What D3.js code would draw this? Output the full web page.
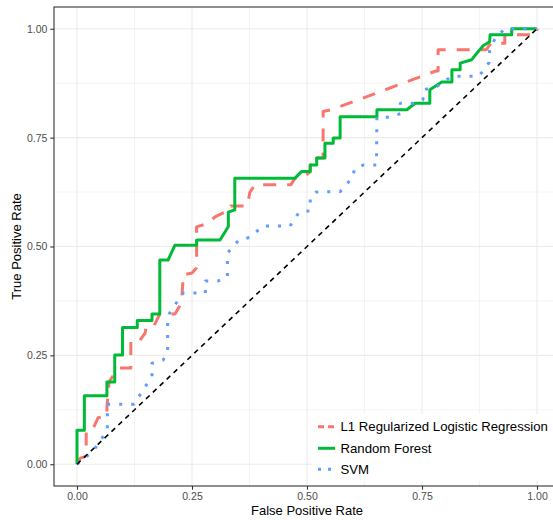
<!DOCTYPE html>
<html>
<head>
<meta charset="utf-8">
<script src="https://cdn.jsdelivr.net/npm/d3@7"></script>
<style>
  body { margin: 0; background: #fff; }
  svg { display: block; font-family: "Liberation Sans", Arial, sans-serif; }
</style>
</head>
<body>
<svg id="chart" width="553" height="520"></svg>
<script>
// ---------- data ----------
const seriesNames = ["L1 Regularized Logistic Regression", "Random Forest", "SVM"];
const seriesColors = ["#F8766D", "#00BA38", "#619CFF"];
const tickValues = [0, 0.25, 0.5, 0.75, 1];
const tickLabels = ["0.00", "0.25", "0.50", "0.75", "1.00"];
const xTitle = "False Positive Rate";
const yTitle = "True Positive Rate";

const fprL1 = [0, 0.007, 0.02, 0.02, 0.035, 0.046, 0.065, 0.065, 0.07, 0.09, 0.117, 0.117, 0.117, 0.137, 0.148, 0.15, 0.165, 0.18, 0.213, 0.227, 0.23, 0.23, 0.25, 0.26, 0.26, 0.285, 0.3, 0.318, 0.33, 0.334, 0.37, 0.376, 0.387, 0.465, 0.474, 0.49, 0.507, 0.507, 0.521, 0.521, 0.535, 0.535, 0.553, 0.78, 0.785, 0.785, 0.89, 0.9, 0.93, 0.93, 1, 1];
const tprL1 = [0, 0.014, 0.018, 0.078, 0.082, 0.107, 0.11, 0.13, 0.19, 0.221, 0.221, 0.236, 0.285, 0.285, 0.301, 0.313, 0.313, 0.345, 0.345, 0.37, 0.416, 0.435, 0.439, 0.451, 0.545, 0.553, 0.568, 0.577, 0.58, 0.593, 0.593, 0.625, 0.642, 0.642, 0.657, 0.657, 0.672, 0.687, 0.687, 0.703, 0.703, 0.81, 0.814, 0.903, 0.903, 0.952, 0.952, 0.967, 0.967, 0.986, 0.986, 1];

const fprRF = [0, 0, 0.016, 0.016, 0.065, 0.065, 0.082, 0.082, 0.099, 0.099, 0.131, 0.131, 0.163, 0.163, 0.18, 0.18, 0.198, 0.213, 0.26, 0.26, 0.311, 0.329, 0.329, 0.343, 0.343, 0.474, 0.488, 0.507, 0.507, 0.521, 0.521, 0.539, 0.539, 0.557, 0.557, 0.572, 0.572, 0.652, 0.652, 0.717, 0.735, 0.767, 0.767, 0.793, 0.815, 0.815, 0.833, 0.833, 0.858, 0.87, 0.883, 0.897, 0.898, 0.945, 0.945, 1];
const tprRF = [0, 0.078, 0.078, 0.157, 0.157, 0.189, 0.189, 0.251, 0.251, 0.314, 0.314, 0.33, 0.33, 0.345, 0.345, 0.469, 0.469, 0.503, 0.503, 0.515, 0.515, 0.546, 0.579, 0.584, 0.657, 0.657, 0.672, 0.672, 0.687, 0.687, 0.703, 0.703, 0.737, 0.737, 0.749, 0.749, 0.798, 0.798, 0.814, 0.814, 0.829, 0.829, 0.86, 0.878, 0.878, 0.906, 0.906, 0.921, 0.929, 0.945, 0.961, 0.97, 0.986, 0.986, 1, 1];

const fprSVM = [0, 0.035, 0.066, 0.066, 0.124, 0.163, 0.163, 0.187, 0.197, 0.197, 0.23, 0.279, 0.279, 0.307, 0.327, 0.327, 0.352, 0.376, 0.404, 0.463, 0.483, 0.507, 0.507, 0.52, 0.572, 0.598, 0.604, 0.622, 0.651, 0.652, 0.68, 0.703, 0.703, 0.731, 0.752, 0.754, 0.783, 0.815, 0.874, 0.896, 0.897, 0.909, 0.93, 1];
const tprSVM = [0, 0.03, 0.078, 0.138, 0.138, 0.202, 0.232, 0.239, 0.257, 0.34, 0.393, 0.393, 0.421, 0.421, 0.43, 0.485, 0.515, 0.521, 0.547, 0.547, 0.579, 0.582, 0.611, 0.625, 0.626, 0.657, 0.679, 0.687, 0.687, 0.797, 0.797, 0.805, 0.829, 0.829, 0.837, 0.86, 0.868, 0.891, 0.891, 0.923, 0.951, 0.978, 1, 1];

const seriesX = [fprL1, fprRF, fprSVM];
const seriesY = [tprL1, tprRF, tprSVM];

// ---------- layout ----------
const svg = d3.select("#chart");
const panel = { left: 54, right: 560, top: 7, bottom: 486 };
const x = d3.scaleLinear().domain([-0.05, 1.05]).range([panel.left, panel.right]);
const y = d3.scaleLinear().domain([-0.05, 1.05]).range([panel.bottom, panel.top]);

// panel background
svg.append("rect")
  .attr("x", panel.left).attr("y", panel.top)
  .attr("width", panel.right - panel.left).attr("height", panel.bottom - panel.top)
  .attr("fill", "#fff");

// grid
const minorTicks = [0.125, 0.375, 0.625, 0.875];
const grid = svg.append("g");
minorTicks.forEach(t => {
  grid.append("line").attr("x1", x(t)).attr("x2", x(t)).attr("y1", panel.top).attr("y2", panel.bottom)
    .attr("stroke", "#EBEBEB").attr("stroke-width", 0.55);
  grid.append("line").attr("y1", y(t)).attr("y2", y(t)).attr("x1", panel.left).attr("x2", panel.right)
    .attr("stroke", "#EBEBEB").attr("stroke-width", 0.55);
});
tickValues.forEach(t => {
  grid.append("line").attr("x1", x(t)).attr("x2", x(t)).attr("y1", panel.top).attr("y2", panel.bottom)
    .attr("stroke", "#EBEBEB").attr("stroke-width", 1.1);
  grid.append("line").attr("y1", y(t)).attr("y2", y(t)).attr("x1", panel.left).attr("x2", panel.right)
    .attr("stroke", "#EBEBEB").attr("stroke-width", 1.1);
});

// curves
const dashes = ["13,11", null, "3,9"];
const line = d3.line().x(d => x(d[0])).y(d => y(d[1]));
seriesNames.forEach((name, i) => {
  const pts = seriesX[i].map((v, j) => [v, seriesY[i][j]]);
  svg.append("path")
    .attr("d", line(pts))
    .attr("fill", "none")
    .attr("stroke", seriesColors[i])
    .attr("stroke-width", 3)
    .attr("stroke-linejoin", "round")
    .attr("stroke-dasharray", dashes[i]);
});

// diagonal
svg.append("line")
  .attr("x1", x(0)).attr("y1", y(0)).attr("x2", x(1)).attr("y2", y(1))
  .attr("stroke", "#000").attr("stroke-width", 1.6).attr("stroke-dasharray", "5,4.5");

// panel border
svg.append("rect")
  .attr("x", panel.left).attr("y", panel.top)
  .attr("width", panel.right - panel.left).attr("height", panel.bottom - panel.top)
  .attr("fill", "none").attr("stroke", "#333").attr("stroke-width", 1.1);

// axes
const xAxis = d3.axisBottom(x).tickValues(tickValues).tickFormat((d, i) => tickLabels[i]).tickSizeOuter(0).tickSizeInner(3.7).tickPadding(3);
const yAxis = d3.axisLeft(y).tickValues(tickValues).tickFormat((d, i) => tickLabels[i]).tickSizeOuter(0).tickSizeInner(3.7).tickPadding(3);
const gx = svg.append("g").attr("transform", `translate(0,${panel.bottom})`).call(xAxis);
const gy = svg.append("g").attr("transform", `translate(${panel.left},0)`).call(yAxis);
[gx, gy].forEach(g => {
  g.select(".domain").remove();
  g.selectAll(".tick line").attr("stroke", "#333").attr("stroke-width", 1.1);
  g.selectAll(".tick text").attr("fill", "#4D4D4D").style("font-size", "10.5px")
    .style("font-family", "'Liberation Sans', Arial, sans-serif");
});

// axis titles
svg.append("text").attr("x", x(0.5)).attr("y", 515).attr("text-anchor", "middle")
  .style("font-size", "13px").attr("fill", "#000").text(xTitle);
svg.append("text").attr("transform", `translate(21,${y(0.5)}) rotate(-90)`).attr("text-anchor", "middle")
  .style("font-size", "13px").attr("fill", "#000").text(yTitle);

// legend
const legend = svg.append("g");
legend.append("rect").attr("x", 312).attr("y", 414).attr("width", 250).attr("height", 67).attr("fill", "#fff");
const rowY = [426.7, 448.3, 469.3];
seriesNames.forEach((name, i) => {
  legend.append("line").attr("x1", 318).attr("x2", 335).attr("y1", rowY[i]).attr("y2", rowY[i])
    .attr("stroke", seriesColors[i]).attr("stroke-width", 3).attr("stroke-dasharray", i === 0 ? "6,4" : (i === 2 ? "3,7" : null));
  legend.append("text").attr("x", 340.5).attr("y", rowY[i]).attr("dy", "0.35em")
    .style("font-size", "13.2px").attr("fill", "#000").text(name);
});
</script>
</body>
</html>
